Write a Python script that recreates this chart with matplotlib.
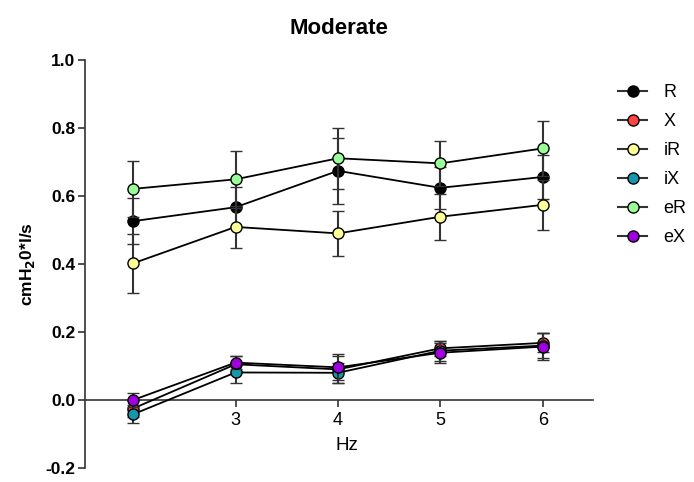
import matplotlib
matplotlib.use("Agg")
import matplotlib.pyplot as plt
from matplotlib.lines import Line2D

plt.rcParams["font.family"] = ["Liberation Sans", "DejaVu Sans"]

hz = [2, 3, 4, 5, 6]
series = ["R", "X", "iR", "iX", "eR", "eX"]
colors = ["#000000", "#FF4444", "#FFFF99", "#1797AE", "#99FF99", "#A000E0"]

R = [0.526, 0.567, 0.674, 0.624, 0.656]
R_err = [0.067, 0.059, 0.097, 0.062, 0.066]
X = [-0.025, 0.105, 0.090, 0.152, 0.168]
X_err = [0.025, 0.024, 0.040, 0.022, 0.028]
iR = [0.402, 0.509, 0.490, 0.539, 0.574]
iR_err = [0.087, 0.061, 0.065, 0.067, 0.073]
iX = [-0.042, 0.081, 0.080, 0.145, 0.160]
iX_err = [0.026, 0.032, 0.029, 0.030, 0.036]
eR = [0.621, 0.649, 0.711, 0.696, 0.740]
eR_err = [0.082, 0.084, 0.090, 0.067, 0.082]
eX = [0.000, 0.110, 0.096, 0.139, 0.157]
eX_err = [0.020, 0.020, 0.038, 0.030, 0.040]

values = [R, X, iR, iX, eR, eX]
errors = [R_err, X_err, iR_err, iX_err, eR_err, eX_err]

fig = plt.figure(figsize=(6.94, 4.82), dpi=100)
ax = fig.add_axes([85 / 694, 1 - 468 / 482, 508 / 694, 408 / 482])

handles = []
for i in range(len(series)):
    ax.errorbar(hz, values[i], yerr=errors[i], color="black", lw=1.3,
                ecolor="#333333", elinewidth=1.5, capsize=4.5, capthick=1.5,
                marker="o", ms=8, mfc=colors[i], mec="black", mew=1,
                zorder=3 + i)
    handles.append(Line2D([], [], color="#333333", lw=1.5, marker="o", ms=8,
                          mfc=colors[i], mec="black", mew=1, label=series[i]))

ax.set_xlim(1.53, 6.49)
ax.set_ylim(-0.2, 1.0)
ax.set_xticks([3, 4, 5, 6])
ax.set_yticks([-0.2, 0.0, 0.2, 0.4, 0.6, 0.8, 1.0])
ax.set_yticklabels(["-0.2", "0.0", "0.2", "0.4", "0.6", "0.8", "1.0"],
                   fontweight="bold", fontsize=12.5)
ax.tick_params(axis="x", labelsize=13, length=5, width=1.2, color="#333333")
ax.tick_params(axis="y", length=5, width=1.2, color="#333333", pad=2)

ax.spines["top"].set_visible(False)
ax.spines["right"].set_visible(False)
ax.spines["bottom"].set_position(("data", 0))
ax.spines["left"].set_linewidth(1.2)
ax.spines["bottom"].set_linewidth(1.2)
ax.spines["left"].set_color("#333333")
ax.spines["bottom"].set_color("#333333")

ax.set_title("Moderate", fontsize=16, fontweight="bold", pad=19)
ax.set_ylabel("cmH$_\\mathbf{2}$0*l/s", fontsize=12.5, fontweight="bold", labelpad=6)
ax.text(0.5, 1 - 445 / 482, "Hz", transform=fig.transFigure, ha="center",
        va="center", fontsize=13.5)

fig.legend(handles=handles, loc="upper left",
           bbox_to_anchor=(602 / 694, 1 - 68 / 482),
           frameon=False, fontsize=13, handlelength=1.6, labelspacing=0.66,
           handletextpad=0.9)

fig.savefig("out.png", dpi=100)
